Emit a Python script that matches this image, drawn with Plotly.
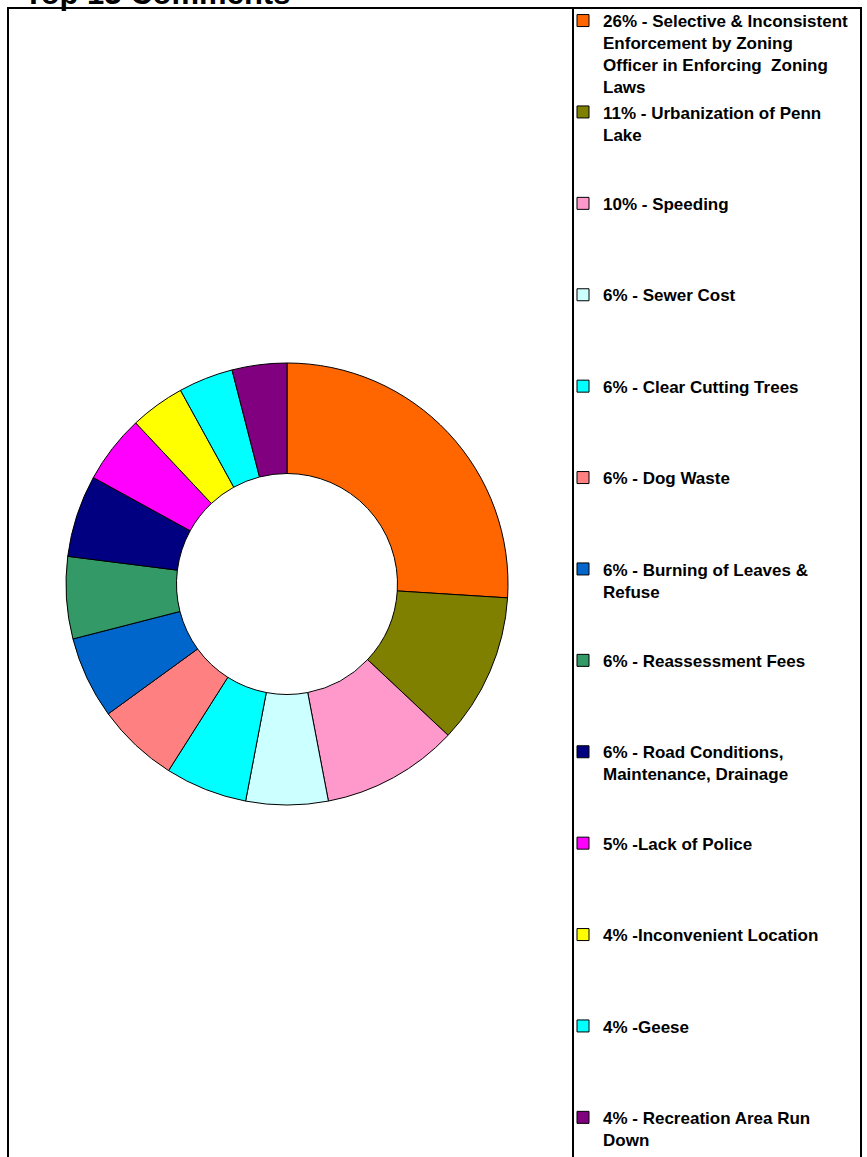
import plotly.graph_objects as go

# ---- data ----
labels = [
    "26% - Selective & Inconsistent<br>Enforcement by Zoning<br>Officer in Enforcing  Zoning<br>Laws",
    "11% - Urbanization of Penn<br>Lake",
    "10% - Speeding",
    "6% - Sewer Cost",
    "6% - Clear Cutting Trees",
    "6% - Dog Waste",
    "6% - Burning of Leaves &<br>Refuse",
    "6% - Reassessment Fees",
    "6% - Road Conditions,<br>Maintenance, Drainage",
    "5% -Lack of Police",
    "4% -Inconvenient Location",
    "4% -Geese",
    "4% - Recreation Area Run<br>Down",
]
values = [26, 11, 10, 6, 6, 6, 6, 6, 6, 5, 4, 4, 4]
colors = [
    "#FF6600", "#808000", "#FF99CC", "#CCFFFF", "#00FFFF", "#FF8080",
    "#0066CC", "#339966", "#000080", "#FF00FF", "#FFFF00", "#00FFFF", "#800080",
]
title_text = "Top 13 Comments"

# ---- layout constants ----
W, H = 867, 1157
LINES = 4


def pad(label, n):
    parts = label.split("<br>")
    return "<br>".join(parts + ["\u00a0"] * (n - len(parts)))


legend_labels = [pad(l, LINES) for l in labels[:-1]] + [labels[-1]]

cx, cy, r = 287, 584, 221
fig = go.Figure(
    go.Pie(
        labels=legend_labels,
        values=values,
        sort=False,
        direction="clockwise",
        rotation=0,
        hole=0.5,
        textinfo="none",
        hoverinfo="label+value",
        marker=dict(colors=colors, line=dict(color="black", width=1)),
        domain=dict(
            x=[(cx - r) / W, (cx + r) / W],
            y=[(H - cy - r) / H, (H - cy + r) / H],
        ),
    )
)

fig.update_layout(
    width=W,
    height=H,
    margin=dict(l=0, r=0, t=0, b=0),
    paper_bgcolor="white",
    plot_bgcolor="white",
    font=dict(family="Liberation Sans, Arial, sans-serif", color="black"),
    showlegend=True,
    legend=dict(
        x=563 / W,
        xanchor="left",
        y=1 - 3 / H,
        yanchor="top",
        valign="top",
        font=dict(size=17, weight="bold", family="Liberation Sans, Arial, sans-serif"),
        bgcolor="rgba(0,0,0,0)",
        borderwidth=0,
        traceorder="normal",
    ),
    shapes=[
        dict(type="rect", xref="paper", yref="paper",
             x0=8 / W, x1=861 / W, y0=-0.05, y1=1 - 8 / H,
             line=dict(color="black", width=2), fillcolor="rgba(0,0,0,0)", layer="below"),
        dict(type="line", xref="paper", yref="paper",
             x0=573 / W, x1=573 / W, y0=-0.05, y1=1 - 8 / H,
             line=dict(color="black", width=2)),
    ],
    annotations=[
        dict(text=title_text, xref="paper", yref="paper", x=22 / W, y=1 + 6.5 / H,
             xanchor="left", yanchor="middle", showarrow=False,
             font=dict(size=31, weight="bold", family="Liberation Sans, Arial, sans-serif", color="black")),
    ],
)

fig.write_html(
    "out.html",
    config={"displayModeBar": False},
    post_script="document.body.style.margin='0';document.body.style.overflow='hidden';",
)
